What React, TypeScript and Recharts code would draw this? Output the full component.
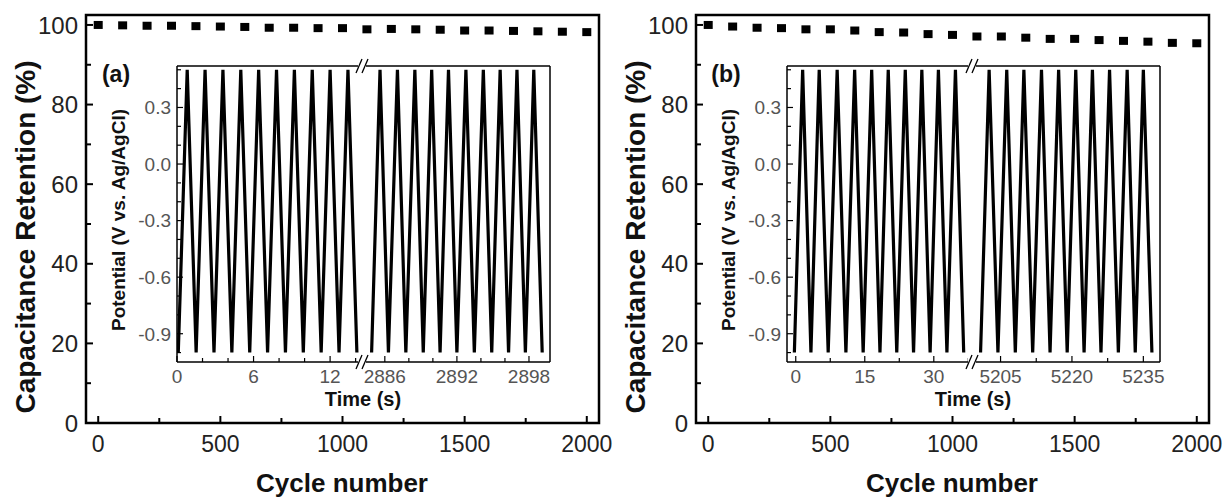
import React from 'react';
import {
    ScatterChart, Scatter, LineChart, Line, XAxis, YAxis, ReferenceArea, ReferenceLine
} from 'recharts';

// main plots: capacitance retention vs cycle number
const cycles = [0, 100, 200, 300, 400, 500, 600, 700, 800, 900, 1000, 1100, 1200, 1300, 1400, 1500, 1600, 1700, 1800, 1900, 2000];
const retentionA = [100, 99.9, 99.8, 99.8, 99.7, 99.6, 99.5, 99.3, 99.3, 99.2, 99.2, 98.9, 99.0, 98.9, 98.8, 98.6, 98.6, 98.5, 98.4, 98.3, 98.2];
const retentionB = [100, 99.6, 99.3, 99.2, 98.9, 98.9, 98.6, 98.2, 98.1, 97.7, 97.5, 97.1, 97.1, 96.8, 96.5, 96.5, 96.2, 96.0, 95.8, 95.5, 95.4];
const cycleTicks = [0, 250, 500, 750, 1000, 1250, 1500, 1750, 2000];
const cycleLabels = [0, 500, 1000, 1500, 2000];
const retTicks = [0, 10, 20, 30, 40, 50, 60, 70, 80, 90, 100];
const retLabels = [0, 20, 40, 60, 80, 100];

// insets: charge/discharge potential vs time (two segments each, broken axis)
const timeA1 = [0.1, 0.8, 1.5, 2.2, 2.9, 3.6, 4.3, 5.0, 5.7, 6.4, 7.1, 7.8, 8.5, 9.2, 9.9, 10.6, 11.3, 12.0, 12.7, 13.4, 14.1];
const potA1 = [-1.0, 0.5, -1.0, 0.5, -1.0, 0.5, -1.0, 0.5, -1.0, 0.5, -1.0, 0.5, -1.0, 0.5, -1.0, 0.5, -1.0, 0.5, -1.0, 0.5, -1.0];
const timeA2 = [2884.9, 2885.6, 2886.3, 2887.05, 2887.75, 2888.5, 2889.2, 2889.9, 2890.6, 2891.3, 2892.0, 2892.75, 2893.45, 2894.2, 2894.9, 2895.6, 2896.3, 2897.0, 2897.7, 2898.4, 2899.1];
const potA2 = [-1.0, 0.5, -1.0, 0.5, -1.0, 0.5, -1.0, 0.5, -1.0, 0.5, -1.0, 0.5, -1.0, 0.5, -1.0, 0.5, -1.0, 0.5, -1.0, 0.5, -1.0];
const timeB1 = [-0.3, 1.5, 3.3, 5.1, 7.05, 9.0, 10.9, 12.8, 14.65, 16.5, 18.3, 20.1, 21.95, 23.8, 25.6, 27.4, 29.2, 31.0, 32.85, 34.7, 36.5];
const potB1 = [-1.0, 0.5, -1.0, 0.5, -1.0, 0.5, -1.0, 0.5, -1.0, 0.5, -1.0, 0.5, -1.0, 0.5, -1.0, 0.5, -1.0, 0.5, -1.0, 0.5, -1.0];
const timeB2 = [5200.8, 5202.6, 5204.45, 5206.3, 5208.1, 5209.9, 5211.75, 5213.6, 5215.4, 5217.2, 5219.0, 5220.8, 5222.55, 5224.3, 5226.1, 5227.9, 5229.75, 5231.6, 5233.3, 5235.0, 5236.8];
const potB2 = [-1.0, 0.5, -1.0, 0.5, -1.0, 0.5, -1.0, 0.5, -1.0, 0.5, -1.0, 0.5, -1.0, 0.5, -1.0, 0.5, -1.0, 0.5, -1.0, 0.5, -1.0];

const potTicks = [-1.0, -0.9, -0.8, -0.7, -0.6, -0.5, -0.4, -0.3, -0.2, -0.1, 0, 0.1, 0.2, 0.3, 0.4, 0.5];
const potLabels = [-0.9, -0.6, -0.3, 0, 0.3];
const timeTicksA1 = [0, 2, 4, 6, 8, 10, 12, 14];
const timeLabelsA1 = [0, 6, 12];
const timeTicksA2 = [2886, 2888, 2890, 2892, 2894, 2896, 2898];
const timeLabelsA2 = [2886, 2892, 2898];
const timeTicksB1 = [0, 7.5, 15, 22.5, 30, 37.5];
const timeLabelsB1 = [0, 15, 30];
const timeTicksB2 = [5205, 5212.5, 5220, 5227.5, 5235];
const timeLabelsB2 = [5205, 5220, 5235];

const font = '"Liberation Sans", Arial, Helvetica, sans-serif';
const potDomain: [number, number] = [-1.05, 0.52];

const has = (arr: number[], v: number) => arr.some(a => Math.abs(a - v) < 1e-6);

// inward ticks drawn by hand so minor ticks get no label
const xTick = (labels: number[], big: number, small: number, sw: number, fs: number, color: string, dy: number) => (p: any) => {
    const { x, y, payload } = p;
    const major = has(labels, payload.value);
    return (
        <g>
            <line x1={x} y1={y} x2={x} y2={y - (major ? big : small)} stroke="#000" strokeWidth={sw} />
            {major && <text x={x} y={y + dy} textAnchor="middle" fontSize={fs} fill={color} fontFamily={font}>{payload.value}</text>}
        </g>
    );
};

const yTick = (labels: number[], big: number, small: number, sw: number, fs: number, color: string, gap: number, fmt: (v: number) => string) => (p: any) => {
    const { x, y, payload } = p;
    const major = has(labels, payload.value);
    return (
        <g>
            <line x1={x} y1={y} x2={x + (major ? big : small)} y2={y} stroke="#000" strokeWidth={sw} />
            {major && <text x={x - gap} y={y + fs * 0.36} textAnchor="end" fontSize={fs} fill={color} fontFamily={font}>{fmt(payload.value)}</text>}
        </g>
    );
};

const SquareDot = (p: any) => <rect x={p.cx - 4.5} y={p.cy - 4} width={9} height={8} fill="#000" />;

const Txt: React.FC<{ x: number; y: number; size: number; rot?: boolean; children: React.ReactNode }> = ({ x, y, size, rot, children }) => (
    <div style={{
        position: 'absolute', left: x, top: y, transform: `translate(-50%, -50%)${rot ? ' rotate(-90deg)' : ''}`,
        fontSize: size, fontWeight: 700, fontFamily: font, whiteSpace: 'nowrap', lineHeight: 1, color: '#111'
    }}>{children}</div>
);

interface PanelProps {
    left: number;
    chartWidth: number;
    tag: string;
    retention: number[];
    t1: number[]; v1: number[]; t2: number[]; v2: number[];
    dom1: [number, number]; dom2: [number, number];
    ticks1: number[]; labels1: number[]; ticks2: number[]; labels2: number[];
}

const Panel: React.FC<PanelProps> = ({ left, chartWidth, tag, retention, t1, v1, t2, v2, dom1, dom2, ticks1, labels1, ticks2, labels2 }) => {
    const mainData = cycles.map((c, i) => ({ cycle: c, ret: retention[i] }));
    const seg1 = t1.map((t, i) => ({ t, v: v1[i] }));
    const seg2 = t2.map((t, i) => ({ t, v: v2[i] }));
    const fmtPot = (v: number) => v.toFixed(1);

    return (
        <div style={{ position: 'absolute', left, top: 0, width: 612, height: 500 }}>
            <div style={{ position: 'absolute', left: 0, top: 0 }}>
                <ScatterChart width={chartWidth} height={500} margin={{ top: 15, right: chartWidth - 599, bottom: 0, left: 0 }}>
                    <XAxis type="number" dataKey="cycle" domain={[-50, 2050]} ticks={cycleTicks} interval={0} height={77}
                        axisLine={false} tickLine={false} tickSize={0} tickMargin={0}
                        tick={xTick(cycleLabels, 7, 5, 2, 23, '#222', 29)} />
                    <YAxis type="number" dataKey="ret" domain={[0, 102.5]} ticks={retTicks} interval={0} width={86}
                        axisLine={false} tickLine={false} tickSize={0} tickMargin={0}
                        tick={yTick(retLabels, 7, 5, 2, 24, '#222', 8, v => String(v))} />
                    <ReferenceArea x1={-50} x2={2050} y1={0} y2={102.5} fill="none" stroke="#000" strokeWidth={2.5} ifOverflow="visible" />
                    <Scatter data={mainData} shape={SquareDot} isAnimationActive={false} />
                </ScatterChart>
            </div>

            <div style={{ position: 'absolute', left: 102, top: 64 }}>
                <LineChart width={260} height={328} data={seg1} margin={{ top: 2, right: 0, bottom: 0, left: 0 }}>
                    <XAxis type="number" dataKey="t" domain={dom1} ticks={ticks1} interval={0} height={30} allowDataOverflow
                        axisLine={{ stroke: '#000', strokeWidth: 1.5 }} tickLine={false} tickSize={0} tickMargin={0}
                        tick={xTick(labels1, 6, 4, 1.2, 19, '#555', 21)} />
                    <YAxis type="number" domain={potDomain} ticks={potTicks} interval={0} width={75} allowDataOverflow
                        axisLine={{ stroke: '#000', strokeWidth: 1.5 }} tickLine={false} tickSize={0} tickMargin={0}
                        tick={yTick(potLabels, 6, 4, 1.2, 19, '#555', 6, fmtPot)} />
                    <ReferenceLine y={potDomain[1]} stroke="#000" strokeWidth={1.5} ifOverflow="visible" />
                    <Line dataKey="v" type="linear" stroke="#000" strokeWidth={3.2} dot={false} isAnimationActive={false} />
                </LineChart>
            </div>
            <div style={{ position: 'absolute', left: 362, top: 64 }}>
                <LineChart width={215} height={328} data={seg2} margin={{ top: 2, right: 27, bottom: 0, left: 0 }}>
                    <XAxis type="number" dataKey="t" domain={dom2} ticks={ticks2} interval={0} height={30} allowDataOverflow
                        axisLine={{ stroke: '#000', strokeWidth: 1.5 }} tickLine={false} tickSize={0} tickMargin={0}
                        tick={xTick(labels2, 6, 4, 1.2, 19, '#555', 21)} />
                    <YAxis type="number" domain={potDomain} hide allowDataOverflow />
                    <ReferenceLine y={potDomain[1]} stroke="#000" strokeWidth={1.5} ifOverflow="visible" />
                    <ReferenceLine x={dom2[1]} stroke="#000" strokeWidth={1.5} ifOverflow="visible" />
                    <Line dataKey="v" type="linear" stroke="#000" strokeWidth={3.2} dot={false} isAnimationActive={false} />
                </LineChart>
            </div>

            {/* axis break marks */}
            <svg width={30} height={320} style={{ position: 'absolute', left: 347, top: 54 }}>
                <rect x={11} y={8} width={8} height={8} fill="#fff" />
                <line x1={9} y1={19} x2={15} y2={5} stroke="#000" strokeWidth={1.3} />
                <line x1={15} y1={19} x2={21} y2={5} stroke="#000" strokeWidth={1.3} />
                <rect x={11} y={304} width={8} height={8} fill="#fff" />
                <line x1={9} y1={315} x2={15} y2={301} stroke="#000" strokeWidth={1.3} />
                <line x1={15} y1={315} x2={21} y2={301} stroke="#000" strokeWidth={1.3} />
            </svg>

            <Txt x={26} y={237} size={28} rot>Capacitance Retention (%)</Txt>
            <Txt x={342} y={483} size={26}>Cycle number</Txt>
            <Txt x={116} y={74} size={23}>{tag}</Txt>
            <Txt x={118} y={220} size={19} rot>Potential (V vs. Ag/AgCl)</Txt>
            <Txt x={363} y={399} size={20}>Time (s)</Txt>
        </div>
    );
}

export default function App() {
    return (
        <div style={{ position: 'absolute', left: 0, top: 0, width: 1223, height: 500, background: '#fff', overflow: 'hidden' }}>
            <Panel left={0} chartWidth={630} tag="(a)" retention={retentionA}
                t1={timeA1} v1={potA1} t2={timeA2} v2={potA2}
                dom1={[0, 14.5]} dom2={[2884.1, 2899.75]}
                ticks1={timeTicksA1} labels1={timeLabelsA1} ticks2={timeTicksA2} labels2={timeLabelsA2} />
            <Panel left={610} chartWidth={613} tag="(b)" retention={retentionB}
                t1={timeB1} v1={potB1} t2={timeB2} v2={potB2}
                dom1={[-1.9, 38.3]} dom2={[5199, 5238.5]}
                ticks1={timeTicksB1} labels1={timeLabelsB1} ticks2={timeTicksB2} labels2={timeLabelsB2} />
        </div>
    );
}
